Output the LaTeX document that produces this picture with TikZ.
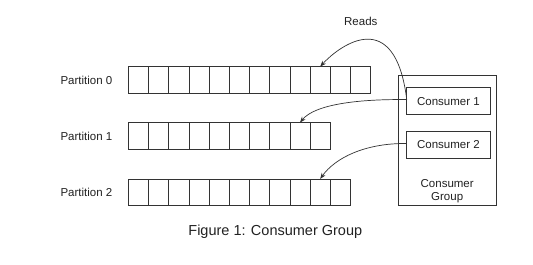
\documentclass[tikz,border=0pt]{standalone}
\usepackage{fontspec}
\setmainfont{Liberation Sans}
\usetikzlibrary{arrows.meta}
\definecolor{ink}{HTML}{333333}
\definecolor{txt}{HTML}{222222}
\tikzset{
  cell/.style={draw=ink, line width=0.8pt, minimum width=20.2pt, minimum height=26.8pt, inner sep=0pt, outer sep=0pt},
  lbl/.style={text=txt, inner sep=0pt, font=\fontsize{11.5}{12.5}\selectfont},
  cbox/.style={draw=ink, line width=0.8pt, inner sep=0pt, outer sep=0pt, minimum width=83.3pt, minimum height=27.3pt, text=txt, font=\fontsize{11.5}{12.5}\selectfont},
  gbox/.style={draw=ink, line width=0.8pt, inner sep=0pt, outer sep=0pt, minimum width=97.7pt, minimum height=130.7pt},
  readarrow/.style={draw=ink, line width=0.7pt, -{Stealth[length=6pt,width=4.5pt]}}
}
\begin{document}
\begin{tikzpicture}[x=1pt,y=-1pt]
\useasboundingbox[fill=white] (0,0) rectangle (533,265);
% partitions
\foreach \r/\n/\yy in {0/12/80, 1/10/136, 2/11/192.3}{
  \pgfmathtruncatemacro{\last}{\n-1}
  \foreach \i in {0,...,\last}{
    \node[cell] (p\r c\i) at ({128.3+10.1+20.2*\i},\yy) {};
  }
}
\node[lbl, anchor=east] (l0) at (112.5,80) {Partition 0};
\node[lbl, anchor=east] (l1) at (112.5,136) {Partition 1};
\node[lbl, anchor=east] (l2) at (112.5,192.3) {Partition 2};
% consumer group
\node[gbox] (grp) at (447.2,140.4) {};
\node[cbox] (c1) at (448.4,101.1) {Consumer 1};
\node[cbox] (c2) at (448.4,145) {Consumer 2};
\node[lbl, align=center] (gl) at (447.2,191) {Consumer\\Group};
% labels
\node[lbl] (reads) at (360.8,21.5) {Reads};
\node[text=txt, inner sep=0pt, anchor=base, font=\fontsize{14.5}{16}\selectfont] (cap) at (275.3,235) {Figure 1: Consumer Group};
% arrows
\draw[readarrow] ([yshift=1.5pt]c1.west) .. controls (395,5) and (340,45) .. (p0c9.north);
\draw[readarrow] ([yshift=1.5pt]c1.west) .. controls (360,99) and (315,104) .. (p1c8.north);
\draw[readarrow] ([yshift=1.5pt]c2.west) .. controls (365,143) and (335,158) .. (p2c9.north);
\end{tikzpicture}
\end{document}
